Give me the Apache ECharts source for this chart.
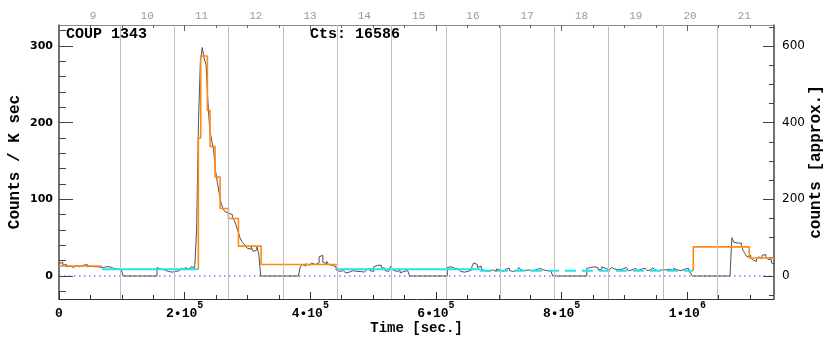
<!DOCTYPE html>
<html><head><meta charset="utf-8">
<script src="https://cdn.jsdelivr.net/npm/echarts@6/dist/echarts.min.js"></script>
<style>html,body{margin:0;padding:0;background:#fff}#c{width:830px;height:339px}</style>
</head><body><div id="c"></div>
<script>
// ---------------- data ----------------
const BIN = 3000;            // seconds per light-curve bin
const X_MAX = 1138000;       // time axis end (s)
// binned count rate (counts / ksec), bin i starts at i*BIN
const rateBins = [
  // 0 - 102 ks
  16,18,14,15,12,13,15,11,13,14,12,11,14,13,15,12,13,11,12,14,12,13,11,
  10,12,11,12,12,10,11,9,10,9,8,
  // gap
  0,0,0,0,0,0,0,0,0,0,0,0,0,0,0,0,0,0,
  // 156 - 321 ks (flare)
  11,9,10,8,7,6,8,5,4,6,8,7,9,10,8,11,9,10,12,11,13,
  60,200,280,298,284,276,228,190,177,165,138,122,108,95,88,84,82,82,80,77,
  72,66,58,50,45,42,39,36,35,38,32,34,38,28,
  // gap
  0,0,0,0,0,0,0,0,0,0,0,0,0,0,0,0,0,0,0,0,0,
  // 384 - 558 ks
  12,15,13,16,14,12,17,15,14,17,25,27,18,16,19,15,14,16,12,
  8,6,5,7,6,4,5,6,7,5,6,4,6,7,5,6,8,10,7,6,12,14,13,14,11,10,7,6,5,13,8,6,5,7,4,6,5,7,6,
  // gap
  0,0,0,0,0,0,0,0,0,0,0,0,0,0,0,0,0,0,0,0,
  // 618 - 786 ks
  11,12,11,10,11,9,8,6,5,6,6,7,8,12,17,15,11,13,9,7,8,6,5,8,7,6,9,8,7,6,
  8,9,10,7,6,8,7,9,11,8,7,6,8,9,7,6,8,7,10,9,8,6,7,8,6,7,
  // gap
  0,0,0,0,0,0,0,0,0,0,0,0,0,0,0,0,0,0,
  // 840 - 1008 ks
  10,11,9,12,10,11,8,9,12,10,9,8,10,11,9,7,8,10,9,8,11,9,7,8,9,10,8,7,9,8,
  10,9,7,8,9,11,8,7,9,8,10,8,7,9,8,7,10,8,9,7,8,9,8,10,7,4,
  // gap
  0,0,0,0,0,0,0,0,0,0,0,0,0,0,0,0,0,0,0,0,0,
  // 1071 - 1140 ks
  50,44,43,45,43,40,33,29,25,27,24,21,19,22,25,23,27,28,25,22,21,17,15
];
// Bayesian-block segments
const blockStart = [0, 68500, 221800, 225600, 236200, 240400, 248400, 256400, 269600, 285600, 321700, 442700, 670000, 1009500, 1098700];
const blockLevel = [13, 8.7, 180, 287, 216, 169, 129, 88, 75, 39, 15, 8.7, 7, 38, 23.5];
const blockKind  = ['o','c','o','o','o','o','o','o','o','o','o','c','d','o','o'];
// ticks / labels
const xMajorTicks = [0, 200000, 400000, 600000, 800000, 1000000];
const yLeftTicks  = [0, 100, 200, 300];
const yRightTicks = [0, 200, 400, 600];
const dayLabels   = [9,10,11,12,13,14,15,16,17,18,19,20,21];
const DAY = 86400, DAY9_T = 54000;
const labelSource = 'COUP 1343';
const labelCounts = 'Cts: 16586';

// ---------------- helpers ----------------
const MONO = '"Liberation Mono", "DejaVu Sans Mono", monospace';
const SANS = '"DejaVu Sans", sans-serif';
function range(a, b, s) { const r = []; for (let v = a; v <= b + 1e-9; v += s) r.push(v); return r; }
const xMinor = range(0, X_MAX, 50000);
const dayT = dayLabels.map(d => DAY9_T + (d - 9) * DAY);
const dayLineT = dayLabels.slice(0, -1).map(d => DAY9_T + (d + 0.5 - 9) * DAY);

const grayData = rateBins.map((v, i) => [i * BIN, v]);
grayData.push([rateBins.length * BIN, rateBins[rateBins.length - 1]]);

function fmtX(v) {
  if (v === 0) return '{b|0}';
  const e = Math.floor(Math.log10(v) + 1e-9);
  const m = Math.round(v / Math.pow(10, e));
  return '{b|' + m + '•10}{s|' + e + '}';
}

const Y0MIN = -30, Y0MAX = 327.4;
const baseX = { type: 'value', min: 0, max: X_MAX, splitLine: { show: false }, axisPointer: { show: false } };
const baseYL = { type: 'value', min: Y0MIN, max: Y0MAX, splitLine: { show: false } };
const baseYR = { type: 'value', min: Y0MIN * 2, max: Y0MAX * 2, splitLine: { show: false } };

const series = [];
series.push({
  type: 'line', data: [[0, 0], [X_MAX, 0]], symbol: 'none', silent: true, z: 1,
  lineStyle: { color: '#3a3aff', width: 1, type: [1.5, 3.5] },
  markLine: {
    silent: true, symbol: ['none', 'none'], label: { show: false }, animation: false,
    lineStyle: { color: '#bdbdbd', width: 1, type: 'solid' },
    data: dayLineT.map(t => ({ xAxis: t }))
  }
});
series.push({
  type: 'line', data: grayData, step: 'end', symbol: 'none', z: 2,
  lineStyle: { color: '#505050', width: 1 }
});
let i = 0;
while (i < blockStart.length) {
  const kind = blockKind[i];
  let j = i;
  while (j + 1 < blockStart.length && blockKind[j + 1] === kind) j++;
  const pts = [];
  if (kind === 'o' && i > 0) pts.push([blockStart[i], blockLevel[i - 1]]);
  for (let k = i; k <= j; k++) pts.push([blockStart[k], blockLevel[k]]);
  const end = j + 1 < blockStart.length ? blockStart[j + 1] : X_MAX;
  pts.push([end, blockLevel[j]]);
  series.push({
    type: 'line', step: 'end', data: pts, symbol: 'none', z: kind === 'o' ? 4 : 3,
    lineStyle: kind === 'o' ? { color: '#ff8a14', width: 1.6 }
      : kind === 'c' ? { color: '#22e4ee', width: 2 }
      : { color: '#22e4ee', width: 2, type: [11, 6] }
  });
  i = j + 1;
}

const option = {
  animation: false,
  backgroundColor: '#ffffff',
  grid: { left: 59, right: 56, top: 25, bottom: 40, containLabel: false, outerBoundsMode: 'none' },
  xAxis: [
    Object.assign({}, baseX, {
      position: 'bottom',
      axisLine: { show: true, onZero: false, lineStyle: { color: '#333', width: 1 } },
      axisTick: { show: true, inside: true, length: 7, customValues: xMajorTicks, lineStyle: { color: '#333' } },
      axisLabel: {
        show: true, customValues: xMajorTicks, formatter: fmtX, margin: 1,
        rich: {
          b: { fontFamily: MONO, fontWeight: 'bold', fontSize: 13, lineHeight: 20, verticalAlign: 'bottom', color: '#000' },
          s: { fontFamily: MONO, fontWeight: 'bold', fontSize: 10, lineHeight: 5, verticalAlign: 'top', color: '#000' }
        }
      },
      name: 'Time [sec.]', nameLocation: 'middle', nameGap: 29, nameMoveOverlap: false,
      nameTextStyle: { fontFamily: MONO, fontWeight: 'bold', fontSize: 14, color: '#000', verticalAlign: 'middle' }
    }),
    Object.assign({}, baseX, {
      position: 'bottom',
      axisLine: { show: false, onZero: false },
      axisTick: { show: true, inside: true, length: 4, customValues: xMinor, lineStyle: { color: '#333' } },
      axisLabel: { show: false }
    }),
    Object.assign({}, baseX, {
      position: 'top',
      axisLine: { show: true, onZero: false, lineStyle: { color: '#888', width: 1 } },
      axisTick: { show: true, inside: true, length: 3, customValues: xMinor, lineStyle: { color: '#666' } },
      axisLabel: {
        show: true, customValues: dayT, margin: 3.5,
        formatter: v => String(Math.round((v - DAY9_T) / DAY) + 9),
        fontFamily: MONO, fontSize: 11, color: '#9a9a9a'
      }
    }),
    Object.assign({}, baseX, {
      position: 'top',
      axisLine: { show: false, onZero: false },
      axisTick: { show: true, inside: true, length: 6, customValues: xMajorTicks, lineStyle: { color: '#666' } },
      axisLabel: { show: false }
    })
  ],
  yAxis: [
    Object.assign({}, baseYL, {
      position: 'left',
      axisLine: { show: true, onZero: false, lineStyle: { color: '#444', width: 1.5 } },
      axisTick: { show: true, inside: true, length: 14, customValues: yLeftTicks, lineStyle: { color: '#444' } },
      axisLabel: { show: true, customValues: yLeftTicks, margin: 6, fontFamily: SANS, fontWeight: 'bold', fontSize: 11, color: '#000' },
      name: 'Counts / K sec', nameLocation: 'middle', nameGap: 44, nameRotate: 90, nameMoveOverlap: false,
      nameTextStyle: { fontFamily: MONO, fontWeight: 'bold', fontSize: 16, color: '#000', verticalAlign: 'middle' }
    }),
    Object.assign({}, baseYL, {
      position: 'left',
      axisLine: { show: false, onZero: false },
      axisTick: { show: true, inside: true, length: 7, customValues: range(-20, 320, 20), lineStyle: { color: '#444' } },
      axisLabel: { show: false }
    }),
    Object.assign({}, baseYR, {
      position: 'right',
      axisLine: { show: true, onZero: false, lineStyle: { color: '#444', width: 1.5 } },
      axisTick: { show: true, inside: true, length: 11, customValues: yRightTicks, lineStyle: { color: '#444' } },
      axisLabel: { show: true, customValues: yRightTicks, margin: 8, fontFamily: SANS, fontSize: 12, color: '#000' },
      name: 'counts [approx.]', nameLocation: 'middle', nameGap: 42, nameRotate: 90, nameMoveOverlap: false,
      nameTextStyle: { fontFamily: MONO, fontWeight: 'bold', fontSize: 16, color: '#000', verticalAlign: 'middle' }
    }),
    Object.assign({}, baseYR, {
      position: 'right',
      axisLine: { show: false, onZero: false },
      axisTick: { show: true, inside: true, length: 5, customValues: range(-50, 650, 50), lineStyle: { color: '#444' } },
      axisLabel: { show: false }
    })
  ],
  graphic: [
    { type: 'text', x: 66, y: 34, z: 10, style: { text: labelSource, font: 'bold 15px ' + MONO, fill: '#000', verticalAlign: 'middle', align: 'left' } },
    { type: 'text', x: 310, y: 34, z: 10, style: { text: labelCounts, font: 'bold 15px ' + MONO, fill: '#000', verticalAlign: 'middle', align: 'left' } }
  ],
  series: series
};
const chart = echarts.init(document.getElementById('c'), null, { renderer: 'canvas' });
chart.setOption(option);
</script>
</body></html>
